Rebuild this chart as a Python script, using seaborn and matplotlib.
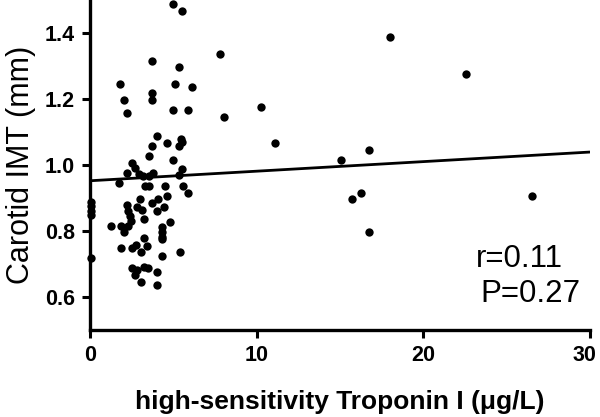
import numpy as np
import pandas as pd
import matplotlib
matplotlib.use('Agg')
import matplotlib.pyplot as plt
import matplotlib.transforms as mtransforms
import seaborn as sns

# hs-Troponin I (ug/L) and carotid IMT (mm)
troponin = [10.28, 11.08, 15.07, 16.73, 18.02, 22.56, 16.24, 15.71, 16.74, 26.54,
            5.01, 5.53, 7.8, 3.74, 5.37, 1.82, 5.13, 6.11, 3.74, 3.74,
            2.06, 2.24, 5.01, 5.89, 8.07, 4.03, 4.63, 3.74, 5.49, 5.53,
            5.37, 3.52, 5.01, 2.54, 5.53, 2.71, 2.24, 2.95, 3.2, 3.55,
            3.79, 5.35, 1.74, 3.28, 3.52, 4.51, 5.57, 5.91, 4.63, 3.02,
            4.09, 0.06, 0.06, 0.06, 0.06, 2.24, 2.84, 3.70, 4.45, 2.28,
            3.10, 4.0, 2.38, 3.25, 4.79, 2.44, 1.24, 1.88, 2.30, 4.30,
            2.04, 4.34, 4.34, 4.34, 3.25, 1.84, 2.54, 2.74, 3.04, 3.45,
            5.41, 4.30, 0.06, 2.50, 2.84, 3.25, 3.51, 2.71, 4.0, 3.04,
            4.0]
imt = [1.176, 1.066, 1.015, 1.045, 1.387, 1.276, 0.916, 0.896, 0.796, 0.906,
       1.487, 1.467, 1.336, 1.316, 1.296, 1.246, 1.246, 1.236, 1.217, 1.197,
       1.197, 1.157, 1.167, 1.167, 1.146, 1.087, 1.066, 1.057, 1.078, 1.068,
       1.056, 1.026, 1.016, 1.007, 0.987, 0.99, 0.977, 0.973, 0.967, 0.967,
       0.975, 0.970, 0.944, 0.937, 0.937, 0.937, 0.937, 0.916, 0.907, 0.896,
       0.896, 0.889, 0.874, 0.861, 0.848, 0.879, 0.872, 0.884, 0.872, 0.859,
       0.864, 0.859, 0.844, 0.835, 0.826, 0.829, 0.816, 0.815, 0.816, 0.813,
       0.798, 0.798, 0.781, 0.775, 0.778, 0.748, 0.748, 0.758, 0.737, 0.755,
       0.737, 0.724, 0.717, 0.687, 0.682, 0.692, 0.687, 0.667, 0.674, 0.646,
       0.636]

# regression line as shown in the paper
fit_intercept = 0.952
fit_slope = 0.0029
stats_text = ['r=0.11', 'P=0.27']

x_ticks = [0, 10, 20, 30]
y_ticks = [0.6, 0.8, 1.0, 1.2, 1.4]

df = pd.DataFrame({'troponin': troponin, 'imt': imt})

sns.set_style('ticks')
plt.rcParams['font.family'] = ['Liberation Sans', 'DejaVu Sans']
plt.rcParams['text.color'] = 'black'
plt.rcParams['axes.labelcolor'] = 'black'
plt.rcParams['xtick.color'] = 'black'
plt.rcParams['ytick.color'] = 'black'

fig = plt.figure(figsize=(6, 4.17), dpi=100)
ax = fig.add_axes([0.150, 0.209, 0.833, 0.791])

sns.scatterplot(data=df, x='troponin', y='imt', color='black', s=36,
                edgecolor='black', linewidth=0, ax=ax, clip_on=False, zorder=3)
ax.axline((0, fit_intercept), slope=fit_slope, color='black', lw=2)

ax.set_xlim(0, 30)
ax.set_ylim(0.5, 1.5)
ax.set_xticks(x_ticks)
ax.set_yticks(y_ticks)
ax.set_xticklabels([str(t) for t in x_ticks], fontsize=15.5, fontweight='bold')
ax.set_yticklabels([f'{t:.1f}' for t in y_ticks], fontsize=15.5, fontweight='bold')
ax.tick_params(direction='out', length=6, width=2.2, pad=5)

# nudge the last x tick label a little left so it stays inside the figure
last = ax.get_xticklabels()[-1]
last.set_transform(last.get_transform() +
                   mtransforms.ScaledTranslation(-5 / 100, 0, fig.dpi_scale_trans))

sns.despine(ax=ax)
for side in ['left', 'bottom']:
    ax.spines[side].set_linewidth(2.4)
    ax.spines[side].set_color('black')

ax.set_xlabel('high-sensitivity Troponin I (\u03bcg/L)', fontsize=19,
              fontweight='bold', labelpad=17)
ax.set_ylabel('Carotid IMT (mm)', fontsize=22, labelpad=6)

ax.text(0.773, 0.191, stats_text[0], transform=ax.transAxes,
        ha='left', va='baseline', fontsize=22.5)
ax.text(0.782, 0.085, stats_text[1], transform=ax.transAxes,
        ha='left', va='baseline', fontsize=22.5)

fig.savefig('out.png', dpi=100)
